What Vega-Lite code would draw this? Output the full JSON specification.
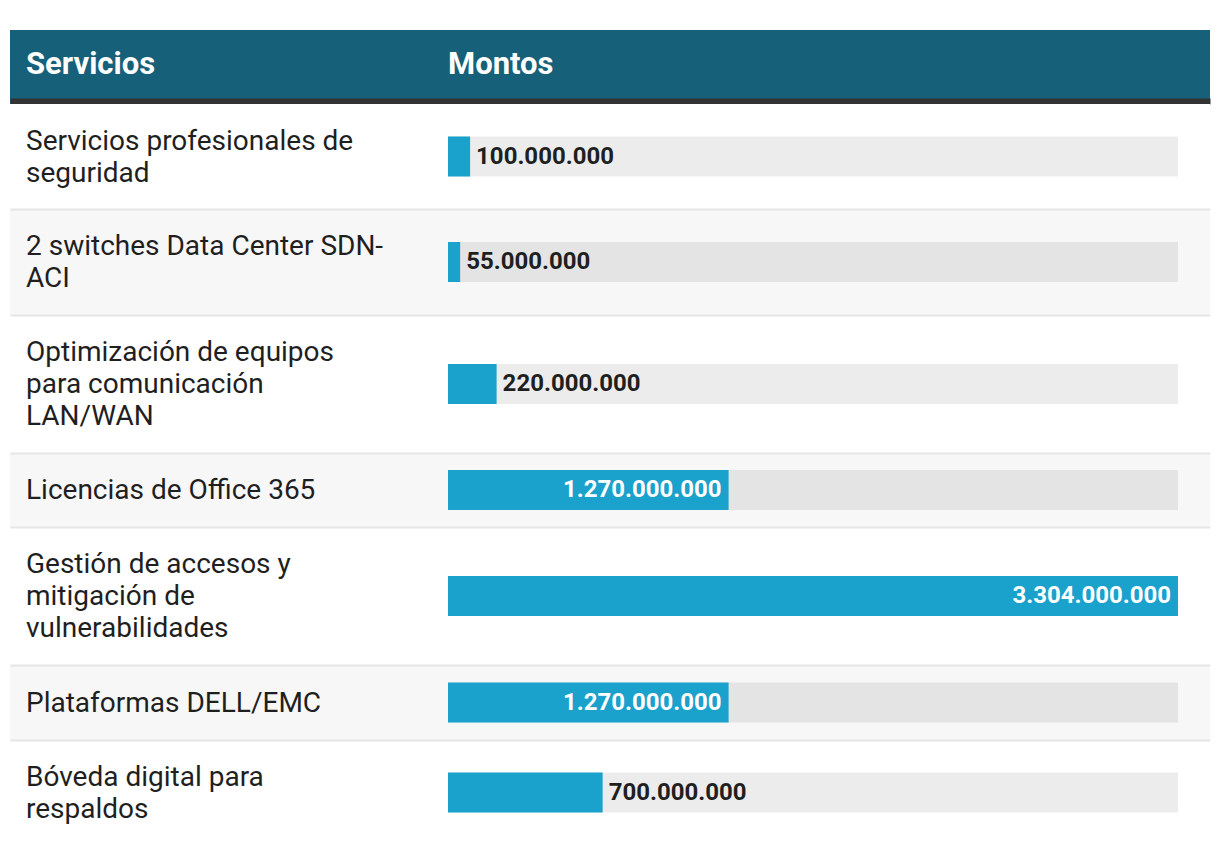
{
  "$schema": "https://vega.github.io/schema/vega-lite/v6.json",
  "background": "#ffffff",
  "padding": {"left": 10, "top": 30, "right": 10, "bottom": 9},
  "autosize": {"type": "pad"},
  "spacing": 0,
  "bounds": "flush",
  "config": {
    "view": {"stroke": null},
    "font": "Roboto",
    "locale": {"number": {"decimal": ",", "thousands": ".", "grouping": [3], "currency": ["$", ""]}}
  },
  "datasets": {
    "columnas": [{"titulo": "Servicios"}, {"titulo": "Montos"}],
    "servicios": [
      {"id": 1, "servicio": "Servicios profesionales de\nseguridad", "monto": 100000000},
      {"id": 2, "servicio": "2 switches Data Center SDN-\nACI", "monto": 55000000},
      {"id": 3, "servicio": "Optimización de equipos\npara comunicación\nLAN/WAN", "monto": 220000000},
      {"id": 4, "servicio": "Licencias de Office 365", "monto": 1270000000},
      {"id": 5, "servicio": "Gestión de accesos y\nmitigación de\nvulnerabilidades", "monto": 3304000000},
      {"id": 6, "servicio": "Plataformas DELL/EMC", "monto": 1270000000},
      {"id": 7, "servicio": "Bóveda digital para\nrespaldos", "monto": 700000000}
    ]
  },
  "vconcat": [
    {
      "width": 1200, "height": 74,
      "view": {"fill": "#176079", "stroke": null},
      "data": {"name": "columnas"},
      "layer": [
        {
          "transform": [{"filter": "datum.titulo == 'Servicios'"}],
          "mark": {"type": "text", "align": "left", "baseline": "middle", "dx": 16, "dy": -2, "fontSize": 31, "fontWeight": "bold", "font": "Roboto", "color": "#ffffff"},
          "encoding": {
            "x": {"datum": -1982400000, "type": "quantitative", "scale": {"domain": [-1982400000, 3448832877], "nice": false, "zero": false}, "axis": {"orient": "bottom", "offset": -3, "domain": true, "domainColor": "#333333", "domainWidth": 6, "ticks": false, "labels": false, "grid": false, "title": null}},
            "text": {"field": "titulo"}
          }
        },
        {
          "transform": [{"filter": "datum.titulo == 'Montos'"}],
          "mark": {"type": "text", "align": "left", "baseline": "middle", "dx": 0, "dy": -2, "fontSize": 31, "fontWeight": "bold", "font": "Roboto", "color": "#ffffff"},
          "encoding": {
            "x": {"datum": 0, "type": "quantitative", "scale": {"domain": [-1982400000, 3448832877], "nice": false, "zero": false}, "axis": {"orient": "bottom", "offset": -3, "domain": true, "domainColor": "#333333", "domainWidth": 6, "ticks": false, "labels": false, "grid": false, "title": null}},
            "text": {"field": "titulo"}
          }
        }
      ]
    },
    {
      "width": 1200, "height": 105,
      "view": {"fill": "#ffffff", "stroke": null},
      "data": {"name": "servicios"},
      "transform": [{"joinaggregate": [{"op": "max", "field": "monto", "as": "maximo"}]}, {"filter": "datum.id == 1"}],
      "encoding": {"y": {"field": "servicio", "type": "nominal", "axis": null, "scale": {"paddingInner": 0, "paddingOuter": 0}}},
      "layer": [
        {"mark": {"type": "bar", "size": 40, "color": "#000000", "opacity": 0.075}, "encoding": {"x": {"field": "maximo", "type": "quantitative", "scale": {"domain": [-1982400000, 3448832877], "nice": false, "zero": false}, "axis": null}}},
        {"mark": {"type": "bar", "size": 40, "color": "#1aa1cc"}, "encoding": {"x": {"field": "monto", "type": "quantitative", "scale": {"domain": [-1982400000, 3448832877], "nice": false, "zero": false}, "axis": null}}},
        {"mark": {"type": "text", "align": "left", "baseline": "middle", "lineBreak": "\n", "lineHeight": 32, "dx": 16, "dy": -15, "fontSize": 28, "font": "Roboto", "color": "#1f1f1f"}, "encoding": {"x": {"datum": -1982400000, "type": "quantitative", "scale": {"domain": [-1982400000, 3448832877], "nice": false, "zero": false}, "axis": null}, "text": {"field": "servicio"}}},
        {"transform": [{"filter": "datum.monto < 1000000000"}], "mark": {"type": "text", "align": "left", "baseline": "middle", "dx": 6, "fontSize": 24, "fontWeight": "bold", "font": "Roboto", "color": "#1f1f1f"}, "encoding": {"x": {"field": "monto", "type": "quantitative", "scale": {"domain": [-1982400000, 3448832877], "nice": false, "zero": false}, "axis": null}, "text": {"field": "monto", "type": "quantitative", "format": ",d"}}},
        {"transform": [{"filter": "datum.monto >= 1000000000"}], "mark": {"type": "text", "align": "right", "baseline": "middle", "dx": -7, "fontSize": 24, "fontWeight": "bold", "font": "Roboto", "color": "#ffffff"}, "encoding": {"x": {"field": "monto", "type": "quantitative", "scale": {"domain": [-1982400000, 3448832877], "nice": false, "zero": false}, "axis": null}, "text": {"field": "monto", "type": "quantitative", "format": ",d"}}}
      ]
    },
    {
      "width": 1200, "height": 106,
      "view": {"fill": "#f7f7f7", "stroke": null},
      "data": {"name": "servicios"},
      "transform": [{"joinaggregate": [{"op": "max", "field": "monto", "as": "maximo"}]}, {"filter": "datum.id == 2"}],
      "encoding": {"y": {"field": "servicio", "type": "nominal", "axis": null, "scale": {"paddingInner": 0, "paddingOuter": 0}}},
      "layer": [
        {"mark": {"type": "bar", "size": 40, "color": "#000000", "opacity": 0.075}, "encoding": {"x": {"field": "maximo", "type": "quantitative", "scale": {"domain": [-1982400000, 3448832877], "nice": false, "zero": false}, "axis": {"orient": "top", "domain": true, "domainColor": "#e6e6e6", "domainWidth": 2, "ticks": false, "labels": false, "grid": false, "title": null}}}},
        {"mark": {"type": "bar", "size": 40, "color": "#1aa1cc"}, "encoding": {"x": {"field": "monto", "type": "quantitative", "scale": {"domain": [-1982400000, 3448832877], "nice": false, "zero": false}, "axis": {"orient": "top", "domain": true, "domainColor": "#e6e6e6", "domainWidth": 2, "ticks": false, "labels": false, "grid": false, "title": null}}}},
        {"mark": {"type": "text", "align": "left", "baseline": "middle", "lineBreak": "\n", "lineHeight": 32, "dx": 16, "dy": -15, "fontSize": 28, "font": "Roboto", "color": "#1f1f1f"}, "encoding": {"x": {"datum": -1982400000, "type": "quantitative", "scale": {"domain": [-1982400000, 3448832877], "nice": false, "zero": false}, "axis": {"orient": "top", "domain": true, "domainColor": "#e6e6e6", "domainWidth": 2, "ticks": false, "labels": false, "grid": false, "title": null}}, "text": {"field": "servicio"}}},
        {"transform": [{"filter": "datum.monto < 1000000000"}], "mark": {"type": "text", "align": "left", "baseline": "middle", "dx": 6, "fontSize": 24, "fontWeight": "bold", "font": "Roboto", "color": "#1f1f1f"}, "encoding": {"x": {"field": "monto", "type": "quantitative", "scale": {"domain": [-1982400000, 3448832877], "nice": false, "zero": false}, "axis": {"orient": "top", "domain": true, "domainColor": "#e6e6e6", "domainWidth": 2, "ticks": false, "labels": false, "grid": false, "title": null}}, "text": {"field": "monto", "type": "quantitative", "format": ",d"}}},
        {"transform": [{"filter": "datum.monto >= 1000000000"}], "mark": {"type": "text", "align": "right", "baseline": "middle", "dx": -7, "fontSize": 24, "fontWeight": "bold", "font": "Roboto", "color": "#ffffff"}, "encoding": {"x": {"field": "monto", "type": "quantitative", "scale": {"domain": [-1982400000, 3448832877], "nice": false, "zero": false}, "axis": {"orient": "top", "domain": true, "domainColor": "#e6e6e6", "domainWidth": 2, "ticks": false, "labels": false, "grid": false, "title": null}}, "text": {"field": "monto", "type": "quantitative", "format": ",d"}}}
      ]
    },
    {
      "width": 1200, "height": 138,
      "view": {"fill": "#ffffff", "stroke": null},
      "data": {"name": "servicios"},
      "transform": [{"joinaggregate": [{"op": "max", "field": "monto", "as": "maximo"}]}, {"filter": "datum.id == 3"}],
      "encoding": {"y": {"field": "servicio", "type": "nominal", "axis": null, "scale": {"paddingInner": 0, "paddingOuter": 0}}},
      "layer": [
        {"mark": {"type": "bar", "size": 40, "color": "#000000", "opacity": 0.075}, "encoding": {"x": {"field": "maximo", "type": "quantitative", "scale": {"domain": [-1982400000, 3448832877], "nice": false, "zero": false}, "axis": {"orient": "top", "domain": true, "domainColor": "#e6e6e6", "domainWidth": 2, "ticks": false, "labels": false, "grid": false, "title": null}}}},
        {"mark": {"type": "bar", "size": 40, "color": "#1aa1cc"}, "encoding": {"x": {"field": "monto", "type": "quantitative", "scale": {"domain": [-1982400000, 3448832877], "nice": false, "zero": false}, "axis": {"orient": "top", "domain": true, "domainColor": "#e6e6e6", "domainWidth": 2, "ticks": false, "labels": false, "grid": false, "title": null}}}},
        {"mark": {"type": "text", "align": "left", "baseline": "middle", "lineBreak": "\n", "lineHeight": 32, "dx": 16, "dy": -31, "fontSize": 28, "font": "Roboto", "color": "#1f1f1f"}, "encoding": {"x": {"datum": -1982400000, "type": "quantitative", "scale": {"domain": [-1982400000, 3448832877], "nice": false, "zero": false}, "axis": {"orient": "top", "domain": true, "domainColor": "#e6e6e6", "domainWidth": 2, "ticks": false, "labels": false, "grid": false, "title": null}}, "text": {"field": "servicio"}}},
        {"transform": [{"filter": "datum.monto < 1000000000"}], "mark": {"type": "text", "align": "left", "baseline": "middle", "dx": 6, "fontSize": 24, "fontWeight": "bold", "font": "Roboto", "color": "#1f1f1f"}, "encoding": {"x": {"field": "monto", "type": "quantitative", "scale": {"domain": [-1982400000, 3448832877], "nice": false, "zero": false}, "axis": {"orient": "top", "domain": true, "domainColor": "#e6e6e6", "domainWidth": 2, "ticks": false, "labels": false, "grid": false, "title": null}}, "text": {"field": "monto", "type": "quantitative", "format": ",d"}}},
        {"transform": [{"filter": "datum.monto >= 1000000000"}], "mark": {"type": "text", "align": "right", "baseline": "middle", "dx": -7, "fontSize": 24, "fontWeight": "bold", "font": "Roboto", "color": "#ffffff"}, "encoding": {"x": {"field": "monto", "type": "quantitative", "scale": {"domain": [-1982400000, 3448832877], "nice": false, "zero": false}, "axis": {"orient": "top", "domain": true, "domainColor": "#e6e6e6", "domainWidth": 2, "ticks": false, "labels": false, "grid": false, "title": null}}, "text": {"field": "monto", "type": "quantitative", "format": ",d"}}}
      ]
    },
    {
      "width": 1200, "height": 74,
      "view": {"fill": "#f7f7f7", "stroke": null},
      "data": {"name": "servicios"},
      "transform": [{"joinaggregate": [{"op": "max", "field": "monto", "as": "maximo"}]}, {"filter": "datum.id == 4"}],
      "encoding": {"y": {"field": "servicio", "type": "nominal", "axis": null, "scale": {"paddingInner": 0, "paddingOuter": 0}}},
      "layer": [
        {"mark": {"type": "bar", "size": 40, "color": "#000000", "opacity": 0.075}, "encoding": {"x": {"field": "maximo", "type": "quantitative", "scale": {"domain": [-1982400000, 3448832877], "nice": false, "zero": false}, "axis": {"orient": "top", "domain": true, "domainColor": "#e6e6e6", "domainWidth": 2, "ticks": false, "labels": false, "grid": false, "title": null}}}},
        {"mark": {"type": "bar", "size": 40, "color": "#1aa1cc"}, "encoding": {"x": {"field": "monto", "type": "quantitative", "scale": {"domain": [-1982400000, 3448832877], "nice": false, "zero": false}, "axis": {"orient": "top", "domain": true, "domainColor": "#e6e6e6", "domainWidth": 2, "ticks": false, "labels": false, "grid": false, "title": null}}}},
        {"mark": {"type": "text", "align": "left", "baseline": "middle", "lineBreak": "\n", "lineHeight": 32, "dx": 16, "dy": 1, "fontSize": 28, "font": "Roboto", "color": "#1f1f1f"}, "encoding": {"x": {"datum": -1982400000, "type": "quantitative", "scale": {"domain": [-1982400000, 3448832877], "nice": false, "zero": false}, "axis": {"orient": "top", "domain": true, "domainColor": "#e6e6e6", "domainWidth": 2, "ticks": false, "labels": false, "grid": false, "title": null}}, "text": {"field": "servicio"}}},
        {"transform": [{"filter": "datum.monto < 1000000000"}], "mark": {"type": "text", "align": "left", "baseline": "middle", "dx": 6, "fontSize": 24, "fontWeight": "bold", "font": "Roboto", "color": "#1f1f1f"}, "encoding": {"x": {"field": "monto", "type": "quantitative", "scale": {"domain": [-1982400000, 3448832877], "nice": false, "zero": false}, "axis": {"orient": "top", "domain": true, "domainColor": "#e6e6e6", "domainWidth": 2, "ticks": false, "labels": false, "grid": false, "title": null}}, "text": {"field": "monto", "type": "quantitative", "format": ",d"}}},
        {"transform": [{"filter": "datum.monto >= 1000000000"}], "mark": {"type": "text", "align": "right", "baseline": "middle", "dx": -7, "fontSize": 24, "fontWeight": "bold", "font": "Roboto", "color": "#ffffff"}, "encoding": {"x": {"field": "monto", "type": "quantitative", "scale": {"domain": [-1982400000, 3448832877], "nice": false, "zero": false}, "axis": {"orient": "top", "domain": true, "domainColor": "#e6e6e6", "domainWidth": 2, "ticks": false, "labels": false, "grid": false, "title": null}}, "text": {"field": "monto", "type": "quantitative", "format": ",d"}}}
      ]
    },
    {
      "width": 1200, "height": 138,
      "view": {"fill": "#ffffff", "stroke": null},
      "data": {"name": "servicios"},
      "transform": [{"joinaggregate": [{"op": "max", "field": "monto", "as": "maximo"}]}, {"filter": "datum.id == 5"}],
      "encoding": {"y": {"field": "servicio", "type": "nominal", "axis": null, "scale": {"paddingInner": 0, "paddingOuter": 0}}},
      "layer": [
        {"mark": {"type": "bar", "size": 40, "color": "#000000", "opacity": 0.075}, "encoding": {"x": {"field": "maximo", "type": "quantitative", "scale": {"domain": [-1982400000, 3448832877], "nice": false, "zero": false}, "axis": {"orient": "top", "domain": true, "domainColor": "#e6e6e6", "domainWidth": 2, "ticks": false, "labels": false, "grid": false, "title": null}}}},
        {"mark": {"type": "bar", "size": 40, "color": "#1aa1cc"}, "encoding": {"x": {"field": "monto", "type": "quantitative", "scale": {"domain": [-1982400000, 3448832877], "nice": false, "zero": false}, "axis": {"orient": "top", "domain": true, "domainColor": "#e6e6e6", "domainWidth": 2, "ticks": false, "labels": false, "grid": false, "title": null}}}},
        {"mark": {"type": "text", "align": "left", "baseline": "middle", "lineBreak": "\n", "lineHeight": 32, "dx": 16, "dy": -31, "fontSize": 28, "font": "Roboto", "color": "#1f1f1f"}, "encoding": {"x": {"datum": -1982400000, "type": "quantitative", "scale": {"domain": [-1982400000, 3448832877], "nice": false, "zero": false}, "axis": {"orient": "top", "domain": true, "domainColor": "#e6e6e6", "domainWidth": 2, "ticks": false, "labels": false, "grid": false, "title": null}}, "text": {"field": "servicio"}}},
        {"transform": [{"filter": "datum.monto < 1000000000"}], "mark": {"type": "text", "align": "left", "baseline": "middle", "dx": 6, "fontSize": 24, "fontWeight": "bold", "font": "Roboto", "color": "#1f1f1f"}, "encoding": {"x": {"field": "monto", "type": "quantitative", "scale": {"domain": [-1982400000, 3448832877], "nice": false, "zero": false}, "axis": {"orient": "top", "domain": true, "domainColor": "#e6e6e6", "domainWidth": 2, "ticks": false, "labels": false, "grid": false, "title": null}}, "text": {"field": "monto", "type": "quantitative", "format": ",d"}}},
        {"transform": [{"filter": "datum.monto >= 1000000000"}], "mark": {"type": "text", "align": "right", "baseline": "middle", "dx": -7, "fontSize": 24, "fontWeight": "bold", "font": "Roboto", "color": "#ffffff"}, "encoding": {"x": {"field": "monto", "type": "quantitative", "scale": {"domain": [-1982400000, 3448832877], "nice": false, "zero": false}, "axis": {"orient": "top", "domain": true, "domainColor": "#e6e6e6", "domainWidth": 2, "ticks": false, "labels": false, "grid": false, "title": null}}, "text": {"field": "monto", "type": "quantitative", "format": ",d"}}}
      ]
    },
    {
      "width": 1200, "height": 75,
      "view": {"fill": "#f7f7f7", "stroke": null},
      "data": {"name": "servicios"},
      "transform": [{"joinaggregate": [{"op": "max", "field": "monto", "as": "maximo"}]}, {"filter": "datum.id == 6"}],
      "encoding": {"y": {"field": "servicio", "type": "nominal", "axis": null, "scale": {"paddingInner": 0, "paddingOuter": 0}}},
      "layer": [
        {"mark": {"type": "bar", "size": 40, "color": "#000000", "opacity": 0.075}, "encoding": {"x": {"field": "maximo", "type": "quantitative", "scale": {"domain": [-1982400000, 3448832877], "nice": false, "zero": false}, "axis": {"orient": "top", "domain": true, "domainColor": "#e6e6e6", "domainWidth": 2, "ticks": false, "labels": false, "grid": false, "title": null}}}},
        {"mark": {"type": "bar", "size": 40, "color": "#1aa1cc"}, "encoding": {"x": {"field": "monto", "type": "quantitative", "scale": {"domain": [-1982400000, 3448832877], "nice": false, "zero": false}, "axis": {"orient": "top", "domain": true, "domainColor": "#e6e6e6", "domainWidth": 2, "ticks": false, "labels": false, "grid": false, "title": null}}}},
        {"mark": {"type": "text", "align": "left", "baseline": "middle", "lineBreak": "\n", "lineHeight": 32, "dx": 16, "dy": 1, "fontSize": 28, "font": "Roboto", "color": "#1f1f1f"}, "encoding": {"x": {"datum": -1982400000, "type": "quantitative", "scale": {"domain": [-1982400000, 3448832877], "nice": false, "zero": false}, "axis": {"orient": "top", "domain": true, "domainColor": "#e6e6e6", "domainWidth": 2, "ticks": false, "labels": false, "grid": false, "title": null}}, "text": {"field": "servicio"}}},
        {"transform": [{"filter": "datum.monto < 1000000000"}], "mark": {"type": "text", "align": "left", "baseline": "middle", "dx": 6, "fontSize": 24, "fontWeight": "bold", "font": "Roboto", "color": "#1f1f1f"}, "encoding": {"x": {"field": "monto", "type": "quantitative", "scale": {"domain": [-1982400000, 3448832877], "nice": false, "zero": false}, "axis": {"orient": "top", "domain": true, "domainColor": "#e6e6e6", "domainWidth": 2, "ticks": false, "labels": false, "grid": false, "title": null}}, "text": {"field": "monto", "type": "quantitative", "format": ",d"}}},
        {"transform": [{"filter": "datum.monto >= 1000000000"}], "mark": {"type": "text", "align": "right", "baseline": "middle", "dx": -7, "fontSize": 24, "fontWeight": "bold", "font": "Roboto", "color": "#ffffff"}, "encoding": {"x": {"field": "monto", "type": "quantitative", "scale": {"domain": [-1982400000, 3448832877], "nice": false, "zero": false}, "axis": {"orient": "top", "domain": true, "domainColor": "#e6e6e6", "domainWidth": 2, "ticks": false, "labels": false, "grid": false, "title": null}}, "text": {"field": "monto", "type": "quantitative", "format": ",d"}}}
      ]
    },
    {
      "width": 1200, "height": 105,
      "view": {"fill": "#ffffff", "stroke": null},
      "data": {"name": "servicios"},
      "transform": [{"joinaggregate": [{"op": "max", "field": "monto", "as": "maximo"}]}, {"filter": "datum.id == 7"}],
      "encoding": {"y": {"field": "servicio", "type": "nominal", "axis": null, "scale": {"paddingInner": 0, "paddingOuter": 0}}},
      "layer": [
        {"mark": {"type": "bar", "size": 40, "color": "#000000", "opacity": 0.075}, "encoding": {"x": {"field": "maximo", "type": "quantitative", "scale": {"domain": [-1982400000, 3448832877], "nice": false, "zero": false}, "axis": {"orient": "top", "domain": true, "domainColor": "#e6e6e6", "domainWidth": 2, "ticks": false, "labels": false, "grid": false, "title": null}}}},
        {"mark": {"type": "bar", "size": 40, "color": "#1aa1cc"}, "encoding": {"x": {"field": "monto", "type": "quantitative", "scale": {"domain": [-1982400000, 3448832877], "nice": false, "zero": false}, "axis": {"orient": "top", "domain": true, "domainColor": "#e6e6e6", "domainWidth": 2, "ticks": false, "labels": false, "grid": false, "title": null}}}},
        {"mark": {"type": "text", "align": "left", "baseline": "middle", "lineBreak": "\n", "lineHeight": 32, "dx": 16, "dy": -15, "fontSize": 28, "font": "Roboto", "color": "#1f1f1f"}, "encoding": {"x": {"datum": -1982400000, "type": "quantitative", "scale": {"domain": [-1982400000, 3448832877], "nice": false, "zero": false}, "axis": {"orient": "top", "domain": true, "domainColor": "#e6e6e6", "domainWidth": 2, "ticks": false, "labels": false, "grid": false, "title": null}}, "text": {"field": "servicio"}}},
        {"transform": [{"filter": "datum.monto < 1000000000"}], "mark": {"type": "text", "align": "left", "baseline": "middle", "dx": 6, "fontSize": 24, "fontWeight": "bold", "font": "Roboto", "color": "#1f1f1f"}, "encoding": {"x": {"field": "monto", "type": "quantitative", "scale": {"domain": [-1982400000, 3448832877], "nice": false, "zero": false}, "axis": {"orient": "top", "domain": true, "domainColor": "#e6e6e6", "domainWidth": 2, "ticks": false, "labels": false, "grid": false, "title": null}}, "text": {"field": "monto", "type": "quantitative", "format": ",d"}}},
        {"transform": [{"filter": "datum.monto >= 1000000000"}], "mark": {"type": "text", "align": "right", "baseline": "middle", "dx": -7, "fontSize": 24, "fontWeight": "bold", "font": "Roboto", "color": "#ffffff"}, "encoding": {"x": {"field": "monto", "type": "quantitative", "scale": {"domain": [-1982400000, 3448832877], "nice": false, "zero": false}, "axis": {"orient": "top", "domain": true, "domainColor": "#e6e6e6", "domainWidth": 2, "ticks": false, "labels": false, "grid": false, "title": null}}, "text": {"field": "monto", "type": "quantitative", "format": ",d"}}}
      ]
    }
  ]
}
